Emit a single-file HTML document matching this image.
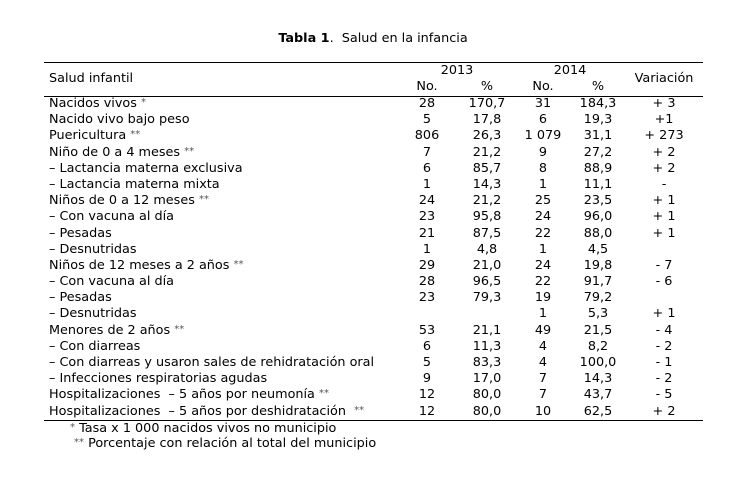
<!DOCTYPE html>
<html><head><meta charset="utf-8"><style>
body{margin:0;width:746px;height:488px;background:#fff;position:relative;font-family:"DejaVu Sans","Liberation Sans",sans-serif;font-size:12.8px;color:#000;overflow:hidden}
.a{position:absolute;white-space:nowrap;line-height:16px}
.c{text-align:center;width:80px;margin-left:-40px}
.l{position:absolute;left:44px;width:659px;height:1px;background:#000}
.s{color:#555;font-size:10px;vertical-align:2px;line-height:0}
#rows{position:absolute;left:0;top:96px}
.r{position:relative;height:16.2px}
.r span{position:absolute;top:0;line-height:16px;white-space:nowrap}
.r span.s{position:static;line-height:0}
</style></head><body>
<div class="a" style="left:0;width:746px;text-align:center;top:31px"><b>Tabla 1</b>.&nbsp; Salud en la infancia</div>
<div class="l" style="top:62px"></div>
<div class="l" style="top:96px"></div>
<div class="l" style="top:420px"></div>
<div class="a" style="left:49px;top:71px">Salud infantil</div>
<div class="a c" style="left:457px;top:63px">2013</div>
<div class="a c" style="left:570px;top:63px">2014</div>
<div class="a c" style="left:427px;top:79px">No.</div>
<div class="a c" style="left:487px;top:79px">%</div>
<div class="a c" style="left:543px;top:79px">No.</div>
<div class="a c" style="left:598px;top:79px">%</div>
<div class="a c" style="left:664px;top:71px">Variación</div>
<div id="rows"></div>
<div class="a" style="left:70px;top:421px"><span class="s">*</span> Tasa x 1 000 nacidos vivos no municipio</div>
<div class="a" style="left:74px;top:436px"><span class="s">**</span> Porcentaje con relación al total del municipio</div>
<script>
var d=[
["Nacidos vivos&nbsp;<span class=s>*</span>","28","170,7","31","184,3","+ 3"],
["Nacido vivo bajo peso","5","17,8","6","19,3","+1"],
["Puericultura&nbsp;<span class=s>**</span>","806","26,3","1 079","31,1","+ 273"],
["Niño de 0 a 4 meses&nbsp;<span class=s>**</span>","7","21,2","9","27,2","+ 2"],
["– Lactancia materna exclusiva","6","85,7","8","88,9","+ 2"],
["– Lactancia materna mixta","1","14,3","1","11,1","-"],
["Niños de 0 a 12 meses&nbsp;<span class=s>**</span>","24","21,2","25","23,5","+ 1"],
["– Con vacuna al día","23","95,8","24","96,0","+ 1"],
["– Pesadas","21","87,5","22","88,0","+ 1"],
["– Desnutridas","1","4,8","1","4,5",""],
["Niños de 12 meses a 2 años&nbsp;<span class=s>**</span>","29","21,0","24","19,8","- 7"],
["– Con vacuna al día","28","96,5","22","91,7","- 6"],
["– Pesadas","23","79,3","19","79,2",""],
["– Desnutridas","","","1","5,3","+ 1"],
["Menores de 2 años&nbsp;<span class=s>**</span>","53","21,1","49","21,5","- 4"],
["– Con diarreas","6","11,3","4","8,2","- 2"],
["– Con diarreas y usaron sales de rehidratación oral","5","83,3","4","100,0","- 1"],
["– Infecciones respiratorias agudas","9","17,0","7","14,3","- 2"],
["Hospitalizaciones &nbsp;– 5 años por neumonía&nbsp;<span class=s>**</span>","12","80,0","7","43,7","- 5"],
["Hospitalizaciones &nbsp;– 5 años por deshidratación &nbsp;<span class=s>**</span>","12","80,0","10","62,5","+ 2"]];
var cx=[427,487,543,598,664],h="";
d.forEach(function(r){h+='<div class=r><span style="left:49px">'+r[0]+'</span>';
for(var i=1;i<6;i++)h+='<span style="left:'+(cx[i-1]-40)+'px;width:80px;text-align:center">'+r[i]+'</span>';h+='</div>';});
document.getElementById('rows').innerHTML=h;
</script>
</body></html>
